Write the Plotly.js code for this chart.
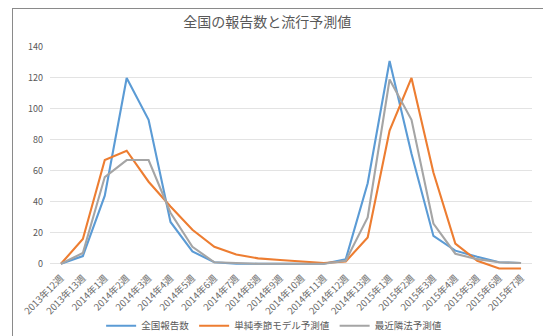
<!DOCTYPE html>
<html>
<head>
<meta charset="utf-8">
<script src="https://cdn.plot.ly/plotly-3.0.1.min.js"></script>
<style>
  html, body { margin: 0; padding: 0; background: #ffffff; }
  #wrap { position: relative; width: 543px; height: 336px; overflow: hidden; }
  #chart { position: absolute; left: 0; top: 0; width: 543px; height: 336px; }
  #frame {
    position: absolute; left: 12px; top: 8px; width: 560px; height: 360px;
    border-left: 1.5px solid #8a8a8a; border-top: 1.5px solid #8a8a8a;
    pointer-events: none;
  }
</style>
</head>
<body>
<div id="wrap">
  <div id="chart"></div>
  <div id="frame"></div>
</div>
<script>
// Weekly categories (year + week number)
const weeks = [
  '2013年12週', '2013年13週',
  '2014年1週', '2014年2週', '2014年3週', '2014年4週', '2014年5週', '2014年6週',
  '2014年7週', '2014年8週', '2014年9週', '2014年10週', '2014年11週', '2014年12週', '2014年13週',
  '2015年1週', '2015年2週', '2015年3週', '2015年4週', '2015年5週', '2015年6週', '2015年7週'
];

// Nationwide reported counts
const reported = [0, 5, 44, 120, 93, 27, 8, 1, 0, 0, 0, 0, 0, 3, 52, 131, 71, 18, 8.5, 4.5, 1, 0.5];

// Simple seasonal model forecast
const seasonalModel = [0, 16, 67, 73, 53, 37, 22, 11, 6, 3.5, 2.5, 1.5, 0.5, 1.5, 17, 86, 120, 59, 13, 2, -3, -3];

// Nearest-neighbour method forecast
const nearestNeighbour = [0, 7, 56, 67, 67, 33, 11, 1, 0.5, 0, 0, 0, 0, 2, 30, 119, 93, 26, 6.5, 3, 1, 0.5];

const yTicks = [0, 20, 40, 60, 80, 100, 120, 140];

const seriesNames = ['全国報告数', '単純季節モデル予測値', '最近隣法予測値'];
const seriesColors = ['#5B9BD5', '#ED7D31', '#A5A5A5'];
const seriesValues = [reported, seasonalModel, nearestNeighbour];

const traces = seriesValues.map((vals, i) => ({
  type: 'scatter',
  mode: 'lines',
  x: weeks,
  y: vals,
  name: seriesNames[i],
  line: { color: seriesColors[i], width: 2.1 },
  hoverinfo: 'x+y+name'
}));

const jpFont = '"Noto Sans CJK JP", "Noto Sans", sans-serif';

const layout = {
  width: 543,
  height: 336,
  margin: { l: 50, r: 11, t: 47, b: 66, autoexpand: false },
  paper_bgcolor: 'rgba(0,0,0,0)',
  plot_bgcolor: '#ffffff',
  font: { family: jpFont, color: '#595959', size: 9 },
  title: {
    text: '全国の報告数と流行予測値',
    x: 0.492,
    xanchor: 'center',
    y: 0.935,
    yanchor: 'middle',
    font: { family: jpFont, size: 14, color: '#595959' }
  },
  xaxis: {
    type: 'category',
    range: [-0.5, weeks.length - 0.5],
    tickangle: -45,
    tickfont: { family: jpFont, size: 9.5, color: '#6a6a6a' },
    showgrid: false,
    showline: false,
    zeroline: false,
    ticks: '',
    automargin: false
  },
  yaxis: {
    range: [-4, 140],
    tickvals: yTicks,
    ticktext: yTicks.map(String),
    tickfont: { family: jpFont, size: 9, color: '#595959' },
    gridcolor: '#e3e3e3',
    gridwidth: 1,
    zeroline: false,
    showline: false,
    ticks: '',
    ticklabelstandoff: 6,
    automargin: false
  },
  showlegend: true,
  legend: {
    orientation: 'h',
    x: 0.465,
    xanchor: 'center',
    y: -0.25,
    yanchor: 'middle',
    font: { family: jpFont, size: 9.5, color: '#595959' },
    bgcolor: 'rgba(0,0,0,0)',
    itemwidth: 30,
    traceorder: 'normal'
  }
};

Plotly.newPlot('chart', traces, layout, { displayModeBar: false, staticPlot: true });
</script>
</body>
</html>
